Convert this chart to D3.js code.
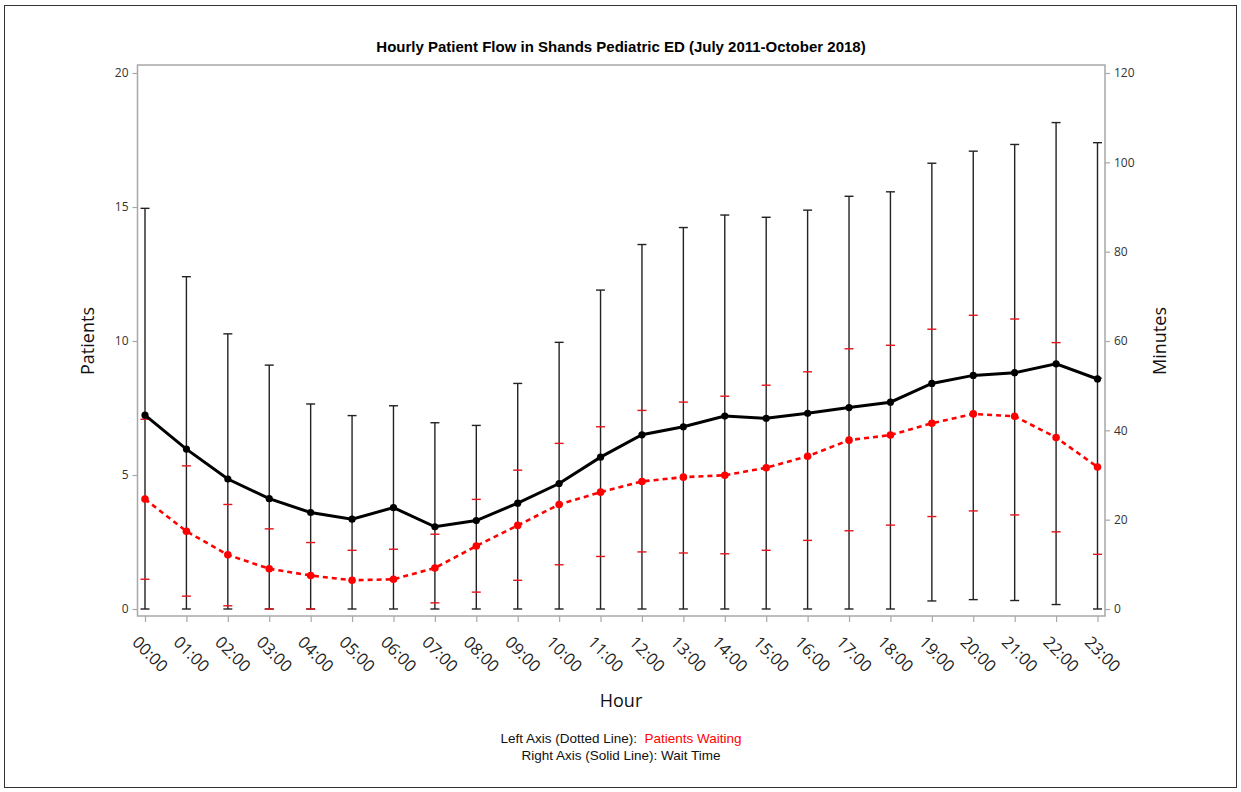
<!DOCTYPE html>
<html>
<head>
<meta charset="utf-8">
<script src="https://cdn.jsdelivr.net/npm/d3@7"></script>
<style>
  html, body { margin: 0; padding: 0; background: #fff; }
  svg { display: block; }
</style>
</head>
<body>
<svg id="chart" width="1241" height="792"></svg>
<script>
// Hour of day
const hours = ["00:00","01:00","02:00","03:00","04:00","05:00","06:00","07:00","08:00","09:00","10:00","11:00",
               "12:00","13:00","14:00","15:00","16:00","17:00","18:00","19:00","20:00","21:00","22:00","23:00"];

// Patients waiting (left axis): mean with lower / upper error limits
const waitingMean  = [4.10,2.90,2.02,1.50,1.25,1.07,1.11,1.53,2.35,3.12,3.90,4.36,4.76,4.92,4.99,5.27,5.70,6.30,6.49,6.93,7.28,7.19,6.40,5.30];
const waitingLower = [1.11,0.48,0.12,0.00,0.00,null,null,0.23,0.63,1.07,1.65,1.96,2.13,2.09,2.06,2.19,2.56,2.92,3.13,3.45,3.66,3.51,2.88,2.04];
const waitingUpper = [7.08,5.34,3.90,2.99,2.48,2.19,2.23,2.79,4.09,5.18,6.18,6.80,7.41,7.72,7.94,8.35,8.85,9.71,9.84,10.44,10.96,10.82,9.94,8.61];

// Wait time in minutes (right axis): mean with lower / upper error limits
const waitMean  = [43.4,35.8,29.1,24.7,21.6,20.1,22.7,18.4,19.8,23.7,28.1,34.0,39.0,40.8,43.2,42.7,43.8,45.1,46.3,50.5,52.3,52.9,54.9,51.5];
const waitLower = [0,0,0,0,0,0,0,0,0,0,0,0,0,0,0,0,0,0,0,1.8,2.1,1.9,1.0,0];
const waitUpper = [89.7,74.4,61.6,54.6,45.9,43.3,45.5,41.7,41.1,50.5,59.7,71.4,81.6,85.4,88.2,87.7,89.3,92.4,93.4,99.8,102.5,104.0,108.9,104.4];

const leftTicks  = [0,5,10,15,20];
const rightTicks = [0,20,40,60,80,100,120];

const svg = d3.select("#chart");

// outer border
svg.append("rect").attr("x", 4.5).attr("y", 5.5).attr("width", 1232).attr("height", 782)
  .attr("fill", "none").attr("stroke", "#333").attr("stroke-width", 1);

const frame = { left: 137.5, right: 1105, top: 65, bottom: 616 };

const x = d3.scalePoint().domain(hours).range([145, 1097.5]);
const yL = d3.scaleLinear().domain([0, 20]).range([609, 73]);
const yR = d3.scaleLinear().domain([0, 120]).range([609, 73]);

// plot frame
svg.append("rect")
  .attr("x", frame.left).attr("y", frame.top)
  .attr("width", frame.right - frame.left).attr("height", frame.bottom - frame.top)
  .attr("fill", "none").attr("stroke", "#a8a8a8").attr("stroke-width", 1.5);

const tickFont = "'Open Sans', 'Noto Sans', sans-serif";

// left axis
const axL = svg.append("g").attr("transform", `translate(${frame.left},0)`)
  .call(d3.axisLeft(yL).tickValues(leftTicks).tickSize(5).tickPadding(4));
// right axis
const axR = svg.append("g").attr("transform", `translate(${frame.right},0)`)
  .call(d3.axisRight(yR).tickValues(rightTicks).tickSize(5).tickPadding(4));
// bottom axis
const axB = svg.append("g").attr("transform", `translate(0,${frame.bottom})`)
  .call(d3.axisBottom(x).tickSize(6).tickPadding(0));

[axL, axR, axB].forEach(g => {
  g.select(".domain").remove();
  g.selectAll(".tick line").attr("stroke", "#a8a8a8").attr("stroke-width", 1.2);
  g.selectAll(".tick text").attr("fill", "#333").style("font-family", tickFont).style("font-size", "12px");
});

axB.selectAll(".tick text")
  .style("font-size", "16.5px")
  .attr("fill", "#222")
  .attr("text-anchor", "start")
  .attr("dy", "0.35em")
  .attr("transform", "translate(-6,19) rotate(45)");

const cap = 4.5;

// wait time error bars (right axis)
const blackBars = svg.append("g").attr("stroke", "#222").attr("stroke-width", 1.4);
hours.forEach((h, i) => {
  const cx = x(h);
  blackBars.append("line").attr("x1", cx).attr("x2", cx).attr("y1", yR(waitLower[i])).attr("y2", yR(waitUpper[i]));
  blackBars.append("line").attr("x1", cx - cap).attr("x2", cx + cap).attr("y1", yR(waitUpper[i])).attr("y2", yR(waitUpper[i]));
  blackBars.append("line").attr("x1", cx - cap).attr("x2", cx + cap).attr("y1", yR(waitLower[i])).attr("y2", yR(waitLower[i]));
});

// patients waiting error caps (left axis)
const redBars = svg.append("g").attr("stroke", "#e8131b").attr("stroke-width", 1.4);
hours.forEach((h, i) => {
  const cx = x(h);
  [waitingLower[i], waitingUpper[i]].forEach(v => {
    if (v === null) return;
    redBars.append("line").attr("x1", cx - cap).attr("x2", cx + cap).attr("y1", yL(v)).attr("y2", yL(v));
  });
});

// patients waiting: dotted red line
svg.append("path")
  .datum(waitingMean)
  .attr("fill", "none").attr("stroke", "#ff0000").attr("stroke-width", 2.6)
  .attr("stroke-dasharray", "5,4")
  .attr("d", d3.line().x((d, i) => x(hours[i])).y(d => yL(d)));
svg.append("g").selectAll("circle").data(waitingMean).join("circle")
  .attr("cx", (d, i) => x(hours[i])).attr("cy", d => yL(d)).attr("r", 3.8).attr("fill", "#ff0000");

// wait time: solid black line
svg.append("path")
  .datum(waitMean)
  .attr("fill", "none").attr("stroke", "#000").attr("stroke-width", 3)
  .attr("d", d3.line().x((d, i) => x(hours[i])).y(d => yR(d)));
svg.append("g").selectAll("circle").data(waitMean).join("circle")
  .attr("cx", (d, i) => x(hours[i])).attr("cy", d => yR(d)).attr("r", 3.6).attr("fill", "#000");

// titles and labels
svg.append("text").attr("x", 621).attr("y", 52).attr("text-anchor", "middle")
  .style("font-family", "'Liberation Sans', Arial, sans-serif").style("font-weight", "bold").style("font-size", "15px")
  .text("Hourly Patient Flow in Shands Pediatric ED (July 2011-October 2018)");

const labelFont = "'Open Sans', 'Noto Sans', sans-serif";
svg.append("text").attr("transform", "translate(94,341) rotate(-90)").attr("text-anchor", "middle")
  .style("font-family", labelFont).style("font-size", "18px").attr("fill", "#111").text("Patients");
svg.append("text").attr("transform", "translate(1166,341) rotate(-90)").attr("text-anchor", "middle")
  .style("font-family", labelFont).style("font-size", "18px").attr("fill", "#111").text("Minutes");
svg.append("text").attr("x", 621).attr("y", 707).attr("text-anchor", "middle")
  .style("font-family", labelFont).style("font-size", "18px").attr("fill", "#111").text("Hour");

const legendFont = "'Liberation Sans', Arial, sans-serif";
const l1 = svg.append("text").attr("x", 621).attr("y", 743).attr("text-anchor", "middle")
  .attr("xml:space", "preserve")
  .style("font-family", legendFont).style("font-size", "13.5px").attr("fill", "#111");
l1.append("tspan").text("Left Axis (Dotted Line):  ");
l1.append("tspan").attr("fill", "#ff0000").text("Patients Waiting");
svg.append("text").attr("x", 621).attr("y", 760).attr("text-anchor", "middle")
  .style("font-family", legendFont).style("font-size", "13.5px").attr("fill", "#111")
  .text("Right Axis (Solid Line): Wait Time");
</script>
</body>
</html>
